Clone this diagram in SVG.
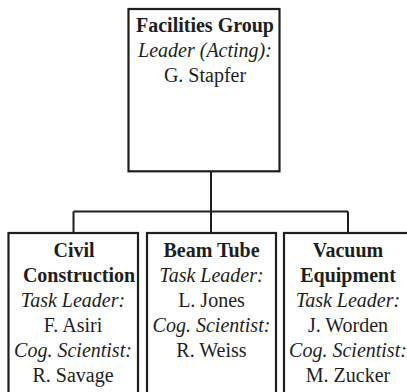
<svg xmlns="http://www.w3.org/2000/svg" width="407" height="392" viewBox="0 0 407 392">
<style>
.box{fill:#fff;stroke:#1e1e1e;stroke-width:2.2}
.con{fill:none;stroke:#1e1e1e;stroke-width:2}
.b{font-weight:bold}
.i{font-style:italic}
</style>
<rect width="407" height="392" fill="#fff"/>
<g id="connectors">
<path class="con" d="M211 171V233M73.5 211.5H348M73.5 211.5V233M348 211.5V233"/>
</g>
<g font-family="Liberation Serif, serif" font-size="20" fill="#1e1e1e" text-anchor="middle">
<g id="facilities">
<rect class="box" x="128.5" y="9" width="151" height="162.3"/>
<text class="b" x="205" y="32">Facilities Group</text>
<text class="i" x="205" y="57">Leader (Acting):</text>
<text x="205" y="82">G. Stapfer</text>
</g>
<g id="civil">
<rect class="box" x="8.5" y="233" width="129.5" height="170"/>
<text class="b" x="74" y="257">Civil</text>
<text class="b" x="79" y="282">Construction</text>
<text class="i" x="73" y="307">Task Leader:</text>
<text x="73" y="332">F. Asiri</text>
<text class="i" x="73" y="357">Cog. Scientist:</text>
<text x="73" y="382">R. Savage</text>
</g>
<g id="beam">
<rect class="box" x="147" y="233" width="129" height="170"/>
<text class="b" x="211.5" y="257">Beam Tube</text>
<text class="i" x="211.5" y="282">Task Leader:</text>
<text x="211.5" y="307">L. Jones</text>
<text class="i" x="211.5" y="332">Cog. Scientist:</text>
<text x="211.5" y="357">R. Weiss</text>
</g>
<g id="vacuum">
<rect class="box" x="284" y="233" width="130" height="170"/>
<text class="b" x="348" y="257">Vacuum</text>
<text class="b" x="348" y="282">Equipment</text>
<text class="i" x="348" y="307">Task Leader:</text>
<text x="348" y="332">J. Worden</text>
<text class="i" x="348" y="357">Cog. Scientist:</text>
<text x="348" y="382">M. Zucker</text>
</g>
</g>
</svg>
